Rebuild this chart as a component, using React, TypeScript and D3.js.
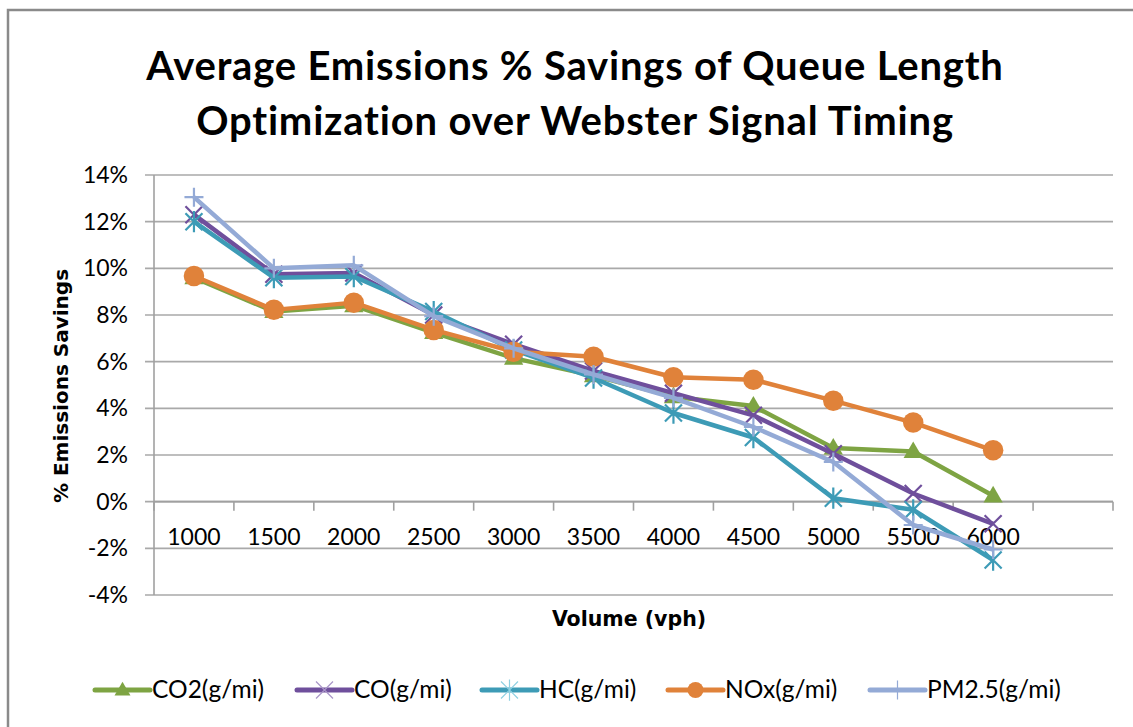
import React from "react";
import * as d3 from "d3";

const categories = ["1000", "1500", "2000", "2500", "3000", "3500", "4000", "4500", "5000", "5500", "6000", ""];
const co2 = [9.6, 8.15, 8.4, 7.25, 6.15, 5.4, 4.5, 4.1, 2.3, 2.15, 0.25];
const co = [12.3, 9.75, 9.8, 8.0, 6.75, 5.6, 4.65, 3.7, 2.05, 0.35, -0.95];
const hc = [12.0, 9.6, 9.65, 8.15, 6.5, 5.3, 3.8, 2.75, 0.15, -0.35, -2.5];
const nox = [9.67, 8.22, 8.53, 7.36, 6.43, 6.21, 5.33, 5.23, 4.33, 3.39, 2.2];
const pm25 = [13.05, 10.0, 10.13, 7.95, 6.57, 5.45, 4.45, 3.2, 1.7, -1.0, -2.05];
const yTicks = [-4, -2, 0, 2, 4, 6, 8, 10, 12, 14];
const titleLines = ["Average Emissions % Savings of Queue Length", "Optimization over Webster Signal Timing"];

type Series = { name: string; values: number[]; color: string; marker: string; legendMarkColor: string };
const series: Series[] = [
  { name: "CO2(g/mi)", values: co2, color: "#7EA443", marker: "triangle", legendMarkColor: "#7EA443" },
  { name: "CO(g/mi)", values: co, color: "#6F4F9C", marker: "x", legendMarkColor: "#A996C8" },
  { name: "HC(g/mi)", values: hc, color: "#3D9BB6", marker: "star", legendMarkColor: "#8FD0E2" },
  { name: "NOx(g/mi)", values: nox, color: "#E0823A", marker: "circle", legendMarkColor: "#E0823A" },
  { name: "PM2.5(g/mi)", values: pm25, color: "#94AAD6", marker: "plus", legendMarkColor: "#94AAD6" },
];

const legendX = [95, 297, 482, 668, 870];

function markerPath(kind: string, h: number): string {
  const p = d3.path();
  if (kind === "x") {
    p.moveTo(-h, -h); p.lineTo(h, h); p.moveTo(-h, h); p.lineTo(h, -h);
  } else if (kind === "star") {
    p.moveTo(-h, -h); p.lineTo(h, h); p.moveTo(-h, h); p.lineTo(h, -h);
    p.moveTo(0, -h * 1.25); p.lineTo(0, h * 1.25);
  } else if (kind === "plus") {
    p.moveTo(-h, 0); p.lineTo(h, 0); p.moveTo(0, -h); p.lineTo(0, h);
  }
  return p.toString();
}

function Marker({ kind, x, y, color, legend }: { kind: string; x: number; y: number; color: string; legend?: boolean }) {
  if (kind === "triangle") {
    const d = d3.symbol().type(d3.symbolTriangle).size(legend ? 110 : 160)();
    return <path d={d as string} transform={`translate(${x},${y + 1})`} fill={color} />;
  }
  if (kind === "circle") {
    const d = d3.symbol().type(d3.symbolCircle).size(legend ? 200 : 330)();
    return <path d={d as string} transform={`translate(${x},${y})`} fill={color} />;
  }
  const h = kind === "plus" ? 9.5 : 8.5;
  return (
    <path
      d={markerPath(kind, h)}
      transform={`translate(${x},${y})`}
      fill="none"
      stroke={color}
      strokeWidth={legend ? 1.2 : 2.2}
    />
  );
}

export default function App() {
  const x = d3.scaleBand<string>().domain(categories).range([154, 1113]).padding(0);
  const y = d3.scaleLinear().domain([-4, 14]).range([595, 175]);
  const cx = (i: number) => (x(categories[i]) as number) + x.bandwidth() / 2;
  const line = d3
    .line<number>()
    .x((_, i) => cx(i))
    .y((v) => y(v));

  const boundaries = categories.map((c) => x(c) as number).concat([1113]);

  return (
    <svg
      width={1133}
      height={727}
      style={{ position: "absolute", left: 0, top: 0, background: "#fff" }}
      fontFamily="Lato, 'Noto Sans', sans-serif"
    >
      <rect x={8} y={10} width={1300} height={900} fill="#fff" stroke="#8A8A8A" strokeWidth={2.5} />
      {titleLines.map((t, i) => (
        <text
          key={i}
          x={575}
          y={80 + i * 55}
          textAnchor="middle"
          fontSize={40}
          letterSpacing={0.8}
          fontWeight="bold"
          fill="#000"
          style={{ fontVariantLigatures: "none" }}
        >
          {t}
        </text>
      ))}
      {/* gridlines */}
      {yTicks.map((t) => (
        <g key={t}>
          <line x1={145} x2={1113} y1={y(t)} y2={y(t)} stroke="#A9A9A9" strokeWidth={1.6} />
          <text x={128} y={y(t) + 8} textAnchor="end" fontSize={23} fill="#000">
            {`${t}%`}
          </text>
        </g>
      ))}
      <line x1={154} x2={154} y1={y(14)} y2={y(-4)} stroke="#A0A0A0" strokeWidth={1.6} />
      {/* x axis at 0 */}
      <line x1={154} x2={1113} y1={y(0)} y2={y(0)} stroke="#A0A0A0" strokeWidth={1.6} />
      {boundaries.map((b, i) => (
        <line key={i} x1={b} x2={b} y1={y(0)} y2={y(0) + 9} stroke="#A0A0A0" strokeWidth={1.6} />
      ))}
      {categories.map((c, i) => (
        <text key={i} x={cx(i)} y={545} textAnchor="middle" fontSize={23} fill="#000">
          {c}
        </text>
      ))}
      <text
        transform={`translate(68,386) rotate(-90)`}
        textAnchor="middle"
        fontSize={20}
        fontWeight="bold"
        fontFamily="'DejaVu Sans', sans-serif"
        fill="#000"
      >
        % Emissions Savings
      </text>
      <text x={629} y={626} textAnchor="middle" fontSize={20.5} fontWeight="bold" fontFamily="'DejaVu Sans', sans-serif" fill="#000">
        Volume (vph)
      </text>
      {/* series */}
      {series.map((s) => (
        <g key={s.name}>
          <path d={line(s.values) as string} fill="none" stroke={s.color} strokeWidth={4.5} strokeLinejoin="round" />
          {s.values.map((v, i) => (
            <Marker key={i} kind={s.marker} x={cx(i)} y={y(v)} color={s.color} />
          ))}
        </g>
      ))}
      {/* legend */}
      {series.map((s, i) => (
        <g key={s.name}>
          <line x1={legendX[i]} x2={legendX[i] + 55} y1={690} y2={690} stroke={s.color} strokeWidth={5} strokeLinecap="round" />
          <Marker kind={s.marker} x={legendX[i] + 27.5} y={690} color={s.legendMarkColor} legend />
          <text x={legendX[i] + 57} y={698} fontSize={24.5} fill="#000">
            {s.name}
          </text>
        </g>
      ))}
    </svg>
  );
}
